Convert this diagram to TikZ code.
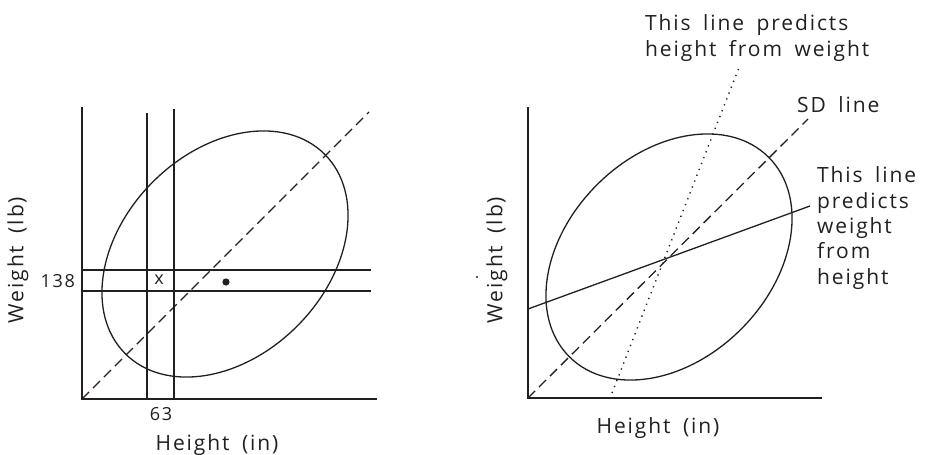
\documentclass[tikz,border=0pt]{standalone}
\usepackage{fontspec}
\setmainfont{Open Sans}[LetterSpace=9, WordSpace=1.7]
\usetikzlibrary{positioning}
\definecolor{figTinta}{RGB}{35,31,32}
\tikzset{
  eje/.style={draw=figTinta, line width=1.3pt},
  linea/.style={draw=figTinta, line width=1.3pt},
  guion/.style={draw=figTinta, line width=1.3pt, dash pattern=on 10pt off 5.5pt},
  punteada/.style={draw=figTinta, line width=1.4pt, dash pattern=on 1.3pt off 5pt},
  elipse/.style={draw=figTinta, line width=1.3pt},
  etiqueta/.style={text=figTinta, font=\fontsize{21}{26}\selectfont, inner sep=0pt, align=left},
  marca/.style={text=figTinta, font=\fontsize{18}{20}\selectfont, inner sep=0pt}
}
\begin{document}
\begin{tikzpicture}[x=1pt, y=-1pt]
  \useasboundingbox (0,0) rectangle (927,455);
  % panel izquierdo
  \coordinate (oi) at (82,399);
  \coordinate (ci) at (225,254);
  \draw[eje] (82,107) -- (oi) -- (377,399);
  \draw[linea] (147,113) -- (147,399);
  \draw[linea] (174,109) -- (174,399);
  \draw[linea] (82,270) -- (371,270);
  \draw[linea] (82,291) -- (371,291);
  \draw[guion] (oi) -- (369,112);
  \draw[elipse, rotate around={45:(ci)}] (ci) ellipse [x radius=141, y radius=102];
  \node[marca] (cruz) at (159,280) {x};
  \fill[figTinta] (226,282) circle [radius=3.6];
  \node[marca, anchor=east] (peso138) at (75,281) {138};
  \node[marca] (talla63) at (161,414) {63};
  \node[etiqueta, below=14pt of talla63.south, xshift=56pt] (alturaI) {Height (in)};
  \node[etiqueta, rotate=90] (pesoI) at (18,260) {Weight (lb)};
  % panel derecho
  \coordinate (od) at (528,398);
  \coordinate (cd) at (669,257);
  \draw[eje] (528,107) -- (od) -- (822,398);
  \draw[guion] (od) -- (808,119);
  \draw[linea] (528,309) -- (810,206);
  \draw[punteada] (612,393) -- (740,65);
  \draw[elipse, rotate around={45:(cd)}] (cd) ellipse [x radius=141, y radius=102];
  \node[etiqueta, anchor=west] (prediceA) at (645,38) {This line predicts\\height from weight};
  \node[etiqueta, anchor=west] (sdlinea) at (797,105) {SD line};
  \node[etiqueta, anchor=west, font=\fontsize{21}{25.3}\selectfont] (prediceP) at (817,228)
    {This line\\predicts\\weight\\from\\height};
  \node[etiqueta] (alturaD) at (658,428) {Height (in)};
  \node[etiqueta, rotate=90] (pesoD) at (497,260) {Weight (lb)};
  \fill[figTinta] (477,277) circle [radius=1.1];
\end{tikzpicture}
\end{document}
